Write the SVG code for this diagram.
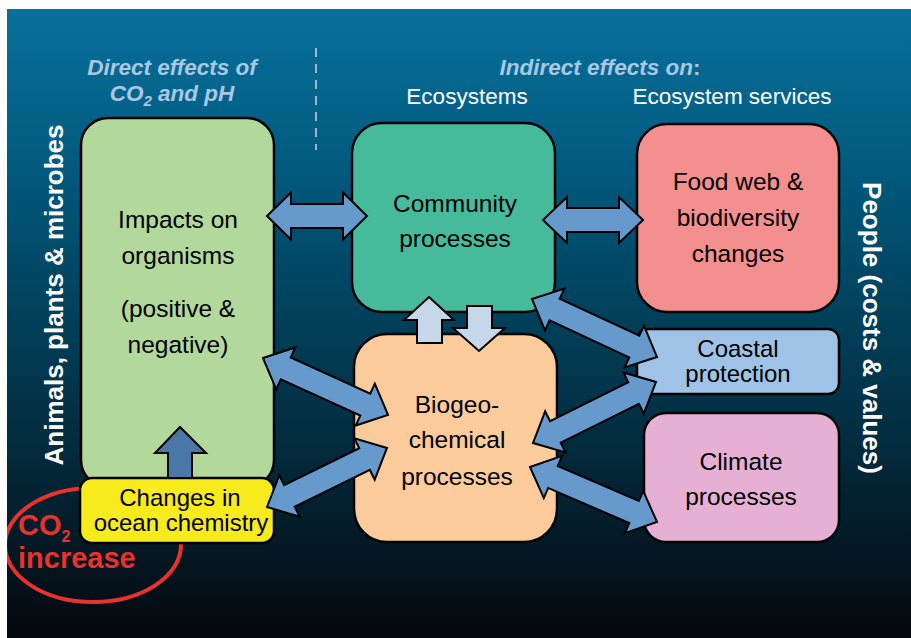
<svg xmlns="http://www.w3.org/2000/svg" width="911" height="638" viewBox="0 0 911 638">
<defs>
<linearGradient id="bg" x1="0" y1="0" x2="0" y2="1">
<stop offset="0" stop-color="#08709c"/>
<stop offset="0.25" stop-color="#015a7e"/>
<stop offset="0.5" stop-color="#013f59"/>
<stop offset="0.72" stop-color="#03283a"/>
<stop offset="1" stop-color="#05070c"/>
</linearGradient>
<clipPath id="bgclip"><rect x="7" y="9" width="904" height="629"/></clipPath>
<style>
.box{stroke:#000;stroke-width:2.5}
.t{font-family:"Liberation Sans",Arial,sans-serif;font-size:24.5px;fill:#000;text-anchor:middle}
.ts{font-family:"Liberation Sans",Arial,sans-serif;font-size:24px;fill:#000;text-anchor:middle}
.hd{font-family:"Liberation Sans",Arial,sans-serif;font-size:22.5px;font-weight:bold;font-style:italic;fill:#a9c8e4;text-anchor:middle}
.sub{font-family:"Liberation Sans",Arial,sans-serif;font-size:22.5px;fill:#fff;text-anchor:middle}
.side{font-family:"Liberation Sans",Arial,sans-serif;font-size:26px;font-weight:bold;fill:#fff;text-anchor:middle}
.arr{fill:#6699cc;stroke:#000;stroke-width:2;stroke-linejoin:miter}
.arrl{fill:#c6d7ea;stroke:#000;stroke-width:2}
.arrd{fill:#4a76a8;stroke:#000;stroke-width:2}
.red{font-family:"Liberation Sans",Arial,sans-serif;font-weight:bold;fill:#e8322b}
</style>
</defs>
<rect x="0" y="0" width="911" height="638" fill="#fff"/>
<rect x="7" y="9" width="904" height="629" fill="url(#bg)"/>
<line x1="316" y1="48" x2="316" y2="150" stroke="#c8d8e6" stroke-width="1.5" stroke-dasharray="9,7"/>
<text class="hd" x="172" y="75">Direct effects of</text>
<text class="hd" x="172" y="101">CO<tspan font-size="15" dy="5">2</tspan><tspan dy="-5"> and pH</tspan></text>
<text class="hd" x="600" y="75">Indirect effects on<tspan font-style="normal">:</tspan></text>
<text class="sub" x="467" y="104">Ecosystems</text>
<text class="sub" x="732" y="104">Ecosystem services</text>
<text class="side" transform="translate(63,295) rotate(-90)">Animals, plants &amp; microbes</text>
<text class="side" transform="translate(863,328) rotate(90)" font-size="27.5">People (costs &amp; values)</text>

<g clip-path="url(#bgclip)">
<ellipse id="co2-ring" cx="93" cy="545" rx="88" ry="57" fill="none" stroke="#e8322b" stroke-width="4"/>
</g>
<g id="co2-increase">
<text class="red" x="18" y="535" font-size="29">CO<tspan font-size="16" dy="7">2</tspan></text>
<text class="red" x="18" y="568" font-size="29">increase</text>
</g>

<g id="impacts">
<rect class="box" x="81" y="118" width="193" height="369" rx="27" fill="#b3d89c"/>
<text class="t" x="178" y="228">Impacts on</text>
<text class="t" x="178" y="264">organisms</text>
<text class="t" x="178" y="317">(positive &amp;</text>
<text class="t" x="178" y="353">negative)</text>
</g>
<g id="community">
<rect class="box" x="352" y="123" width="203" height="189" rx="30" fill="#45bb9c"/>
<text class="t" x="455" y="212">Community</text>
<text class="t" x="455" y="247">processes</text>
</g>
<g id="foodweb">
<rect class="box" x="637" y="124" width="202" height="188" rx="30" fill="#f48f8f"/>
<text class="t" x="738" y="190">Food web &amp;</text>
<text class="t" x="738" y="226">biodiversity</text>
<text class="t" x="738" y="262">changes</text>
</g>
<g id="biogeo">
<rect class="box" x="354" y="334" width="203" height="208" rx="33" fill="#fbcb9b"/>
<text class="t" x="457" y="413">Biogeo-</text>
<text class="t" x="457" y="448">chemical</text>
<text class="t" x="457" y="485">processes</text>
</g>
<g id="coastal">
<rect class="box" x="637" y="329" width="202" height="65" rx="11" fill="#9fc3e6"/>
<text class="ts" x="738" y="357">Coastal</text>
<text class="ts" x="738" y="382">protection</text>
</g>
<g id="climate">
<rect class="box" x="644" y="413" width="195" height="129" rx="22" fill="#e6b0d4"/>
<text class="t" x="741" y="470">Climate</text>
<text class="t" x="741" y="505">processes</text>
</g>
<g id="ocean-chem">
<rect class="box" x="80" y="478" width="194" height="65" rx="12" fill="#f7eb1e"/>
<text class="ts" x="180" y="506">Changes in</text>
<text class="ts" x="181" y="531">ocean chemistry</text>
</g>

<g id="connectors">
<path class="arr" transform="translate(267,216)" d="M0,0 L24,-23.5 L24,-12 L76,-12 L76,-23.5 L100,0 L76,23.5 L76,12 L24,12 L24,23.5 Z"/>
<path class="arr" transform="translate(543,220)" d="M0,0 L24,-23 L24,-12 L76,-12 L76,-23 L100,0 L76,23 L76,12 L24,12 L24,23 Z"/>
<path class="arr" transform="translate(532,299) rotate(24.9)" d="M0,0 L25,-23 L25,-12 L112.8,-12 L112.8,-23 L137.8,0 L112.8,23 L112.8,12 L25,12 L25,23 Z"/>
<path class="arr" transform="translate(533,443) rotate(-26.4)" d="M0,0 L25,-23 L25,-12 L112.3,-12 L112.3,-23 L137.3,0 L112.3,23 L112.3,12 L25,12 L25,23 Z"/>
<path class="arr" transform="translate(530,467) rotate(23.4)" d="M0,0 L25,-23 L25,-12 L113.4,-12 L113.4,-23 L138.4,0 L113.4,23 L113.4,12 L25,12 L25,23 Z"/>
<path class="arr" transform="translate(263,358) rotate(24.5)" d="M0,0 L25,-23 L25,-12 L112.4,-12 L112.4,-23 L137.4,0 L112.4,23 L112.4,12 L25,12 L25,23 Z"/>
<path class="arr" transform="translate(267,507) rotate(-26.2)" d="M0,0 L25,-23 L25,-12 L108.7,-12 L108.7,-23 L133.7,0 L108.7,23 L108.7,12 L25,12 L25,23 Z"/>
<path class="arrl" d="M429,297 L454,320 L442,320 L442,343 L417,343 L417,320 L404,320 Z"/>
<path class="arrl" d="M467,306 L492,306 L492,328 L505,328 L479,351 L453,328 L467,328 Z"/>
<path class="arrd" d="M180,427 L206,453 L192,453 L192,478 L168,478 L168,453 L155,453 Z"/>
</g>
</svg>
